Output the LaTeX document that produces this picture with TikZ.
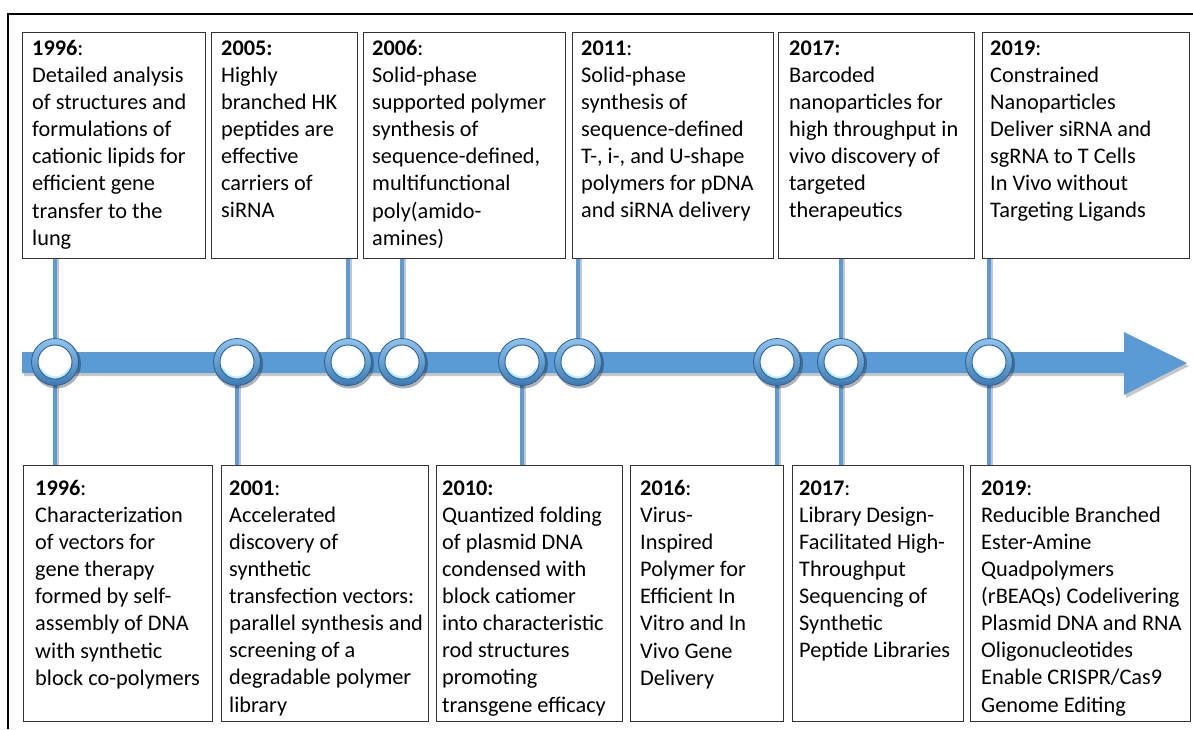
\documentclass[tikz,border=0pt]{standalone}
\usepackage{fontspec}
\setmainfont{Carlito}
\usetikzlibrary{backgrounds}
\definecolor{tlblue}{HTML}{5B9BD5}
\definecolor{ringtop}{HTML}{8EC3EE}
\definecolor{ringbot}{HTML}{3D7AB5}
\definecolor{ringedge}{HTML}{2C5F8E}
\definecolor{glow}{HTML}{A0E9FF}
\begin{document}
\begin{tikzpicture}[x=1pt,y=1pt,
  boxstyle/.style={draw=black!80, line width=1.1pt, fill=white, rectangle, inner sep=0pt, anchor=north west},
  txt/.style={anchor=north west, align=left, inner sep=0pt, font=\fontsize{22.3}{27.1}\selectfont},
  stem/.style={draw=tlblue, line width=3.2pt},
  stemshadow/.style={draw=black, opacity=.22, line width=3pt},
  ring/.style={circle, minimum size=47pt, inner sep=0pt, draw=ringedge, line width=.8pt, top color=ringtop, bottom color=ringbot},
]
\useasboundingbox (0,0) rectangle (1193,-729);

% outer frame (top and left edges only)
\draw[line width=2.6pt] (8,-729) -- (8,-14) -- (1193,-14);

% ---- upper boxes ----
\node[boxstyle, minimum width=183, minimum height=226] (bt1) at (22,-32) {};
\node[boxstyle, minimum width=146, minimum height=226] (bt2) at (211,-32) {};
\node[boxstyle, minimum width=202, minimum height=226] (bt3) at (363,-32) {};
\node[boxstyle, minimum width=201, minimum height=226] (bt4) at (572,-32) {};
\node[boxstyle, minimum width=196, minimum height=226] (bt5) at (778,-32) {};
\node[boxstyle, minimum width=207, minimum height=226] (bt6) at (982,-32) {};

\node[txt] (tt1) at ([shift={(10,-8)}]bt1.north west) {\rule{0pt}{15pt}\textbf{1996}:\\Detailed analysis\\of structures and\\formulations of\\cationic lipids for\\efficient gene\\transfer to the\\lung};
\node[txt] (tt2) at ([shift={(10,-8)}]bt2.north west) {\rule{0pt}{15pt}\textbf{2005:}\\Highly\\branched HK\\peptides are\\effective\\carriers of\\siRNA};
\node[txt] (tt3) at ([shift={(9,-8)}]bt3.north west) {\rule{0pt}{15pt}\textbf{2006}:\\Solid-phase\\supported polymer\\synthesis of\\sequence-defined,\\multifunctional\\poly(amido-\\amines)};
\node[txt] (tt4) at ([shift={(9,-8)}]bt4.north west) {\rule{0pt}{15pt}\textbf{2011}:\\Solid-phase\\synthesis of\\sequence-defined\\T-, i-, and U-shape\\polymers for pDNA\\and siRNA delivery};
\node[txt] (tt5) at ([shift={(11,-8)}]bt5.north west) {\rule{0pt}{15pt}\textbf{2017:}\\Barcoded\\nanoparticles for\\high throughput in\\vivo discovery of\\targeted\\therapeutics};
\node[txt] (tt6) at ([shift={(8,-8)}]bt6.north west) {\rule{0pt}{15pt}\textbf{2019}:\\Constrained\\Nanoparticles\\Deliver siRNA and\\sgRNA to T Cells\\In Vivo without\\Targeting Ligands};

% ---- lower boxes ----
\node[boxstyle, minimum width=189, minimum height=256] (bb1) at (23,-465) {};
\node[boxstyle, minimum width=207, minimum height=256] (bb2) at (221,-465) {};
\node[boxstyle, minimum width=186, minimum height=256] (bb3) at (436,-465) {};
\node[boxstyle, minimum width=153, minimum height=256] (bb4) at (630,-465) {};
\node[boxstyle, minimum width=171, minimum height=256] (bb5) at (792,-465) {};
\node[boxstyle, minimum width=220, minimum height=256] (bb6) at (970,-465) {};

\node[txt] (tb1) at ([shift={(12,-15)}]bb1.north west) {\rule{0pt}{15pt}\textbf{1996}:\\Characterization\\of vectors for\\gene therapy\\formed by self-\\assembly of DNA\\with synthetic\\block co-polymers};
\node[txt] (tb2) at ([shift={(8,-15)}]bb2.north west) {\rule{0pt}{15pt}\textbf{2001}:\\Accelerated\\discovery of\\synthetic\\transfection vectors:\\parallel synthesis and\\screening of a\\degradable polymer\\library};
\node[txt] (tb3) at ([shift={(6,-15)}]bb3.north west) {\rule{0pt}{15pt}\textbf{2010:}\\Quantized folding\\of plasmid DNA\\condensed with\\block catiomer\\into characteristic\\rod structures\\promoting\\transgene efficacy};
\node[txt] (tb4) at ([shift={(10,-15)}]bb4.north west) {\rule{0pt}{15pt}\textbf{2016}:\\Virus-\\Inspired\\Polymer for\\Efficient In\\Vitro and In\\Vivo Gene\\Delivery};
\node[txt] (tb5) at ([shift={(7,-15)}]bb5.north west) {\rule{0pt}{15pt}\textbf{2017}:\\Library Design-\\Facilitated High-\\Throughput\\Sequencing of\\Synthetic\\Peptide Libraries};
\node[txt] (tb6) at ([shift={(11,-15)}]bb6.north west) {\rule{0pt}{15pt}\textbf{2019}:\\Reducible Branched\\Ester-Amine\\Quadpolymers\\(rBEAQs) Codelivering\\Plasmid DNA and RNA\\Oligonucleotides\\Enable CRISPR/Cas9\\Genome Editing};

% ---- milestone markers on the time axis ----
\foreach \n/\x in {c1/55, c2/237, c3/348, c4/402, c5/522, c6/578, c7/777, c8/841, c9/989}{
  \fill[black, opacity=.3] (\x+1.5,-364) circle (24.5);
  \node[ring] (\n) at (\x,-362) {};
  \fill[white] (\n) circle (17);
  \draw[glow, line width=2pt, opacity=.8] (\n) ++(205:15.5) arc (205:335:15.5);
  \draw[ringedge, line width=.9pt] (\n) circle (17);
}

\begin{pgfonlayer}{background}
  % time axis arrow with its shadow
  \fill[black, opacity=.22] (24,-355) -- (1126,-355) -- (1126,-335) -- (1189,-366) -- (1126,-398) -- (1126,-376) -- (24,-376) -- cycle;
  \fill[tlblue] (22,-352) -- (1124,-352) -- (1124,-332) -- (1187,-363) -- (1124,-395) -- (1124,-373) -- (22,-373) -- cycle;
  % stems from the upper boxes
  \foreach \b/\c in {bt1/c1, bt2/c3, bt3/c4, bt4/c6, bt5/c8, bt6/c9}{
    \draw[stemshadow] ([xshift=2.5pt]\b.south -| \c) -- ([xshift=2.5pt]\c.north);
    \draw[stem] (\b.south -| \c) -- (\c.north);
  }
  % stems to the lower boxes
  \foreach \b/\c in {bb1/c1, bb2/c2, bb3/c5, bb4/c7, bb5/c8, bb6/c9}{
    \draw[stemshadow] ([xshift=2.5pt]\c.south) -- ([xshift=2.5pt]\b.north -| \c);
    \draw[stem] (\c.south) -- (\b.north -| \c);
  }
\end{pgfonlayer}
\end{tikzpicture}
\end{document}
